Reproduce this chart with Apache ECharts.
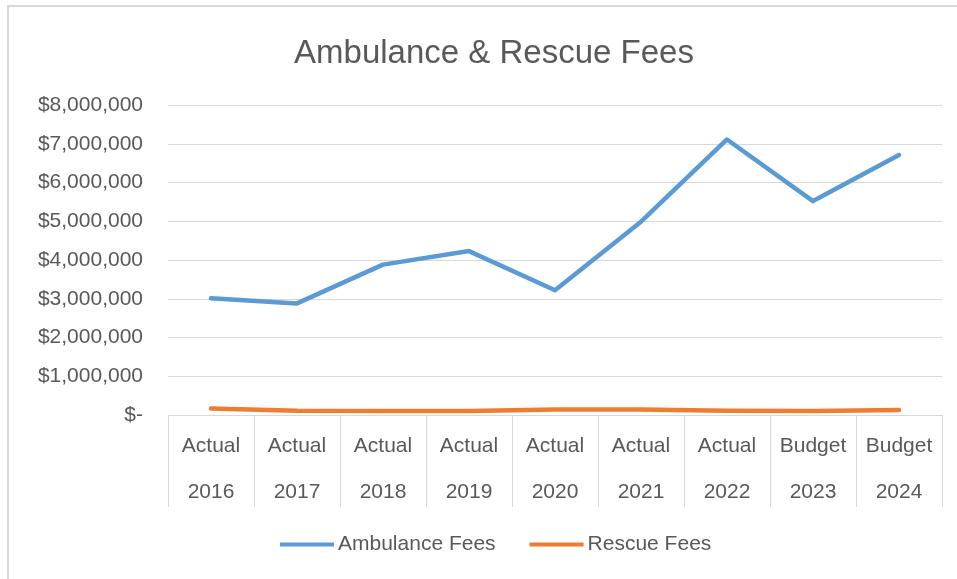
<!DOCTYPE html>
<html>
<head>
<meta charset="utf-8">
<title>Ambulance &amp; Rescue Fees</title>
<script src="https://cdn.jsdelivr.net/npm/echarts@6/dist/echarts.min.js"></script>
<style>
  html, body { margin: 0; padding: 0; background: #ffffff; }
  #chart { width: 957px; height: 579px; }
</style>
</head>
<body>
<div id="chart"></div>
<script>
// Fiscal periods: status line on top, year below
const periodTypes = ['Actual', 'Actual', 'Actual', 'Actual', 'Actual', 'Actual', 'Actual', 'Budget', 'Budget'];
const years = ['2016', '2017', '2018', '2019', '2020', '2021', '2022', '2023', '2024'];

// Fee revenue in dollars
const ambulanceFees = [3010000, 2880000, 3880000, 4230000, 3220000, 4990000, 7110000, 5520000, 6710000];
const rescueFees = [170000, 110000, 105000, 105000, 140000, 145000, 110000, 105000, 130000];

const categories = periodTypes.map((t, i) => t + '\n' + years[i]);

const textColor = '#595959';
const lineGray = '#d9d9d9';
const fontFamily = '"Liberation Sans", Arial, sans-serif';

const chart = echarts.init(document.getElementById('chart'), null, { renderer: 'canvas' });

function dollars(v) {
  if (v === 0) return '$-';
  return '$' + v.toLocaleString('en-US');
}

chart.setOption({
  animation: false,
  backgroundColor: '#ffffff',
  textStyle: { fontFamily: fontFamily },
  graphic: [{
    type: 'rect',
    silent: true,
    shape: { x: 8, y: 6, width: 1000, height: 1000 },
    style: { fill: 'none', stroke: lineGray, lineWidth: 2 }
  }],
  title: {
    text: 'Ambulance & Rescue Fees',
    left: 489,
    textAlign: 'center',
    top: 32,
    textStyle: { color: textColor, fontSize: 33, fontWeight: 'normal', fontFamily: fontFamily }
  },
  legend: {
    bottom: 19,
    left: 275,
    icon: 'rect',
    itemWidth: 54,
    itemHeight: 4,
    itemGap: 34,
    textStyle: { color: textColor, fontSize: 21, fontFamily: fontFamily, padding: [0, 0, 0, -1] },
    data: ['Ambulance Fees', 'Rescue Fees']
  },
  grid: { left: 168, right: 15, top: 105, bottom: 164, containLabel: false },
  xAxis: {
    type: 'category',
    data: categories,
    boundaryGap: true,
    axisLine: { show: true, lineStyle: { color: lineGray, width: 1 } },
    axisTick: { show: true, interval: 0, length: 92, lineStyle: { color: lineGray, width: 1 } },
    axisLabel: {
      interval: 0,
      color: textColor,
      fontSize: 21,
      fontFamily: fontFamily,
      lineHeight: 46,
      margin: 8
    }
  },
  yAxis: {
    type: 'value',
    min: 0,
    max: 8000000,
    interval: 1000000,
    axisLine: { show: false },
    axisTick: { show: false },
    splitLine: { show: true, lineStyle: { color: lineGray, width: 1 } },
    axisLabel: {
      color: textColor,
      fontSize: 21,
      fontFamily: fontFamily,
      margin: 25,
      formatter: dollars
    }
  },
  series: [
    {
      name: 'Ambulance Fees',
      type: 'line',
      data: ambulanceFees,
      showSymbol: false,
      symbol: 'none',
      color: '#5b9bd5',
      lineStyle: { color: '#5b9bd5', width: 4.5, cap: 'round', join: 'round' }
    },
    {
      name: 'Rescue Fees',
      type: 'line',
      data: rescueFees,
      showSymbol: false,
      symbol: 'none',
      color: '#ed7d31',
      lineStyle: { color: '#ed7d31', width: 4.5, cap: 'round', join: 'round' }
    }
  ]
});
</script>
</body>
</html>
